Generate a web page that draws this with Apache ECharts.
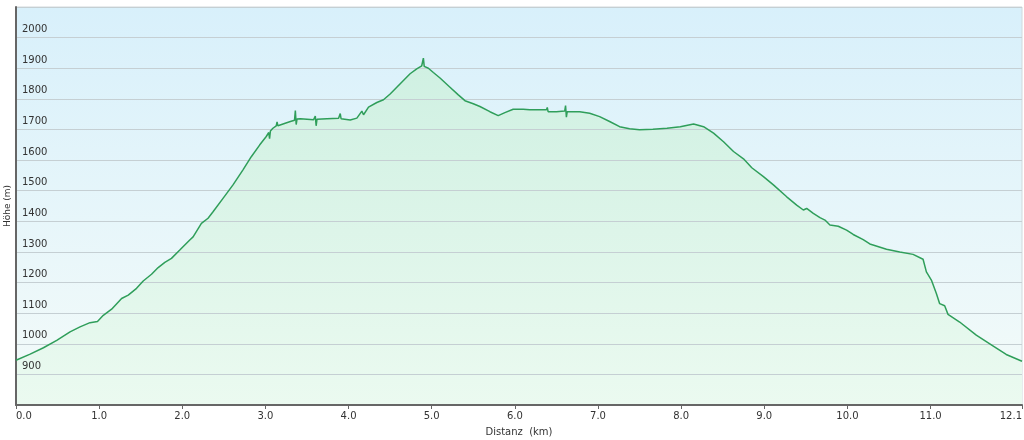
<!DOCTYPE html>
<html>
<head>
<meta charset="utf-8">
<script src="https://cdn.jsdelivr.net/npm/echarts@6/dist/echarts.min.js"></script>
<style>
html,body{margin:0;padding:0;background:#fff;}
#chart{width:1024px;height:440px;}
</style>
</head>
<body>
<div id="chart"></div>
<script>
// Distance (km)
const distances = [0, 0.17, 0.33, 0.49, 0.65, 0.77, 0.89, 0.98, 1.05, 1.15, 1.27, 1.35, 1.45, 1.53, 1.63, 1.71, 1.79, 1.87, 1.97, 2.09, 2.13, 2.23, 2.31, 2.37, 2.49, 2.61, 2.73, 2.83, 2.93, 3.01, 3.04, 3.05, 3.06, 3.09, 3.13, 3.14, 3.15, 3.17, 3.30, 3.35, 3.36, 3.37, 3.38, 3.42, 3.58, 3.60, 3.61, 3.62, 3.74, 3.88, 3.90, 3.91, 4.02, 4.10, 4.16, 4.18, 4.24, 4.34, 4.42, 4.50, 4.58, 4.66, 4.74, 4.82, 4.88, 4.90, 4.91, 4.96, 5.02, 5.10, 5.22, 5.32, 5.40, 5.50, 5.58, 5.70, 5.80, 5.88, 5.98, 6.10, 6.18, 6.38, 6.39, 6.40, 6.50, 6.60, 6.61, 6.62, 6.63, 6.78, 6.90, 7.02, 7.14, 7.26, 7.38, 7.50, 7.66, 7.83, 7.99, 8.15, 8.27, 8.39, 8.51, 8.63, 8.75, 8.85, 8.99, 9.11, 9.27, 9.39, 9.47, 9.51, 9.59, 9.67, 9.73, 9.79, 9.89, 9.99, 10.07, 10.19, 10.27, 10.47, 10.63, 10.79, 10.91, 10.95, 11.01, 11.07, 11.11, 11.17, 11.21, 11.35, 11.55, 11.75, 11.91, 12.1];
// Elevation (m)
const elevations = [946, 966, 987, 1011, 1039, 1055, 1069, 1073, 1093, 1113, 1148, 1159, 1181, 1205, 1227, 1249, 1266, 1279, 1306, 1339, 1349, 1393, 1410, 1431, 1475, 1519, 1568, 1611, 1649, 1677, 1690, 1670, 1695, 1704, 1712, 1725, 1712, 1717, 1726, 1730, 1762, 1716, 1734, 1735, 1732, 1744, 1712, 1733, 1735, 1737, 1752, 1735, 1731, 1737, 1760, 1748, 1773, 1788, 1797, 1816, 1838, 1860, 1882, 1898, 1908, 1933, 1906, 1900, 1886, 1868, 1838, 1813, 1794, 1784, 1775, 1758, 1745, 1755, 1766, 1766, 1764, 1764, 1772, 1758, 1758, 1760, 1778, 1740, 1758, 1758, 1753, 1742, 1726, 1709, 1702, 1699, 1701, 1704, 1709, 1718, 1709, 1688, 1660, 1628, 1604, 1575, 1546, 1519, 1480, 1453, 1437, 1442, 1426, 1412, 1404, 1388, 1384, 1371, 1357, 1340, 1326, 1309, 1300, 1292, 1276, 1235, 1208, 1164, 1131, 1124, 1096, 1071, 1028, 993, 965, 943];
// X tick values
const xTicks = [0, 1, 2, 3, 4, 5, 6, 7, 8, 9, 10, 11, 12.1];

const seriesData = distances.map((d, i) => [d, elevations[i]]);
const FONT = 'DejaVu Sans';

const chart = echarts.init(document.getElementById('chart'), null, {renderer: 'canvas'});
chart.setOption({
  animation: false,
  backgroundColor: '#ffffff',
  grid: {
    left: 16, right: 2, top: 7, bottom: 35,
    outerBoundsMode: 'none',
    containLabel: false,
    show: true,
    borderColor: '#d0d8dc',
    borderWidth: 1,
    backgroundColor: new echarts.graphic.LinearGradient(0, 0, 0, 1, [
      {offset: 0, color: '#d8f0fb'},
      {offset: 1, color: '#f4fbf9'}
    ])
  },
  xAxis: {
    type: 'value',
    z: 4,
    min: 0, max: 12.1,
    name: 'Distanz  (km)',
    nameLocation: 'middle',
    nameGap: 22,
    nameTextStyle: {fontFamily: FONT, fontSize: 10, color: '#333'},
    axisLine: {show: true, onZero: false, lineStyle: {color: '#666', width: 2}},
    axisTick: {show: true, length: 4, customValues: xTicks, lineStyle: {color: '#666'}},
    axisLabel: {
      customValues: xTicks,
      fontFamily: FONT, fontSize: 10, color: '#333', margin: 6,
      alignMinLabel: 'left', alignMaxLabel: 'right',
      formatter: v => Number(v).toFixed(1)
    },
    splitLine: {show: false}
  },
  yAxis: {
    type: 'value',
    z: 2,
    min: 800, max: 2100, interval: 100,
    name: 'Höhe (m)',
    nameLocation: 'middle',
    nameGap: 4,
    nameRotate: 90,
    nameMoveOverlap: false,
    nameTextStyle: {fontFamily: FONT, fontSize: 9, color: '#333', padding: [0, 0, 0, 0]},
    axisLine: {show: true, lineStyle: {color: '#666', width: 2}},
    axisTick: {show: false},
    axisLabel: {
      inside: true, margin: 6,
      verticalAlign: 'bottom',
      padding: [0, 0, 3, 0],
      fontFamily: FONT, fontSize: 10, color: '#333',
      showMinLabel: false, showMaxLabel: false,
      formatter: v => String(v)
    },
    splitLine: {show: true, lineStyle: {color: '#c5cfd3', width: 1}}
  },
  series: [{
    type: 'line',
    z: 1,
    data: seriesData,
    symbol: 'none',
    lineStyle: {width: 0, opacity: 0},
    areaStyle: {
      opacity: 1,
      color: new echarts.graphic.LinearGradient(0, 0, 0, 1, [
        {offset: 0, color: '#cff0e2'},
        {offset: 1, color: '#ebfaf0'}
      ])
    }
  }, {
    type: 'line',
    z: 3,
    data: seriesData,
    symbol: 'none',
    lineStyle: {color: '#2f9e5a', width: 1.5}
  }]
});
</script>
</body>
</html>
